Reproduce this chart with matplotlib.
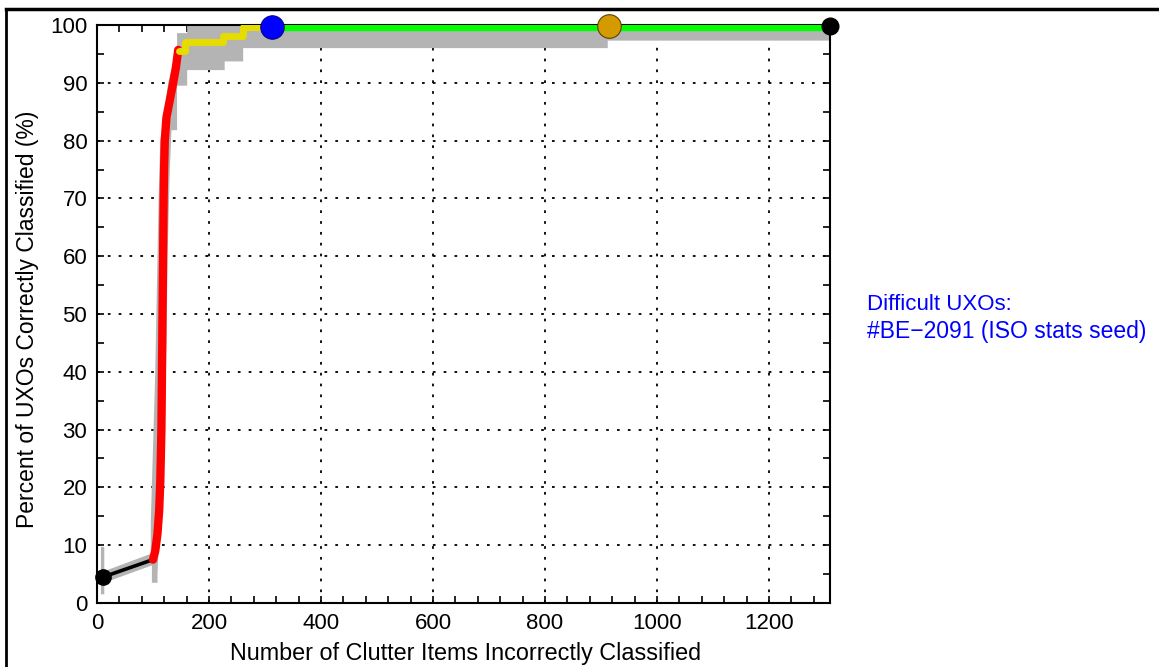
import matplotlib
matplotlib.use("Agg")
import matplotlib.pyplot as plt
from matplotlib.lines import Line2D
from matplotlib.ticker import MultipleLocator

plt.rcParams["font.family"] = ["Liberation Sans", "DejaVu Sans"]

# ROC segments (clutter false alarms vs. % UXO found)
black_x = [11, 100]
black_y = [4.5, 7.5]
red_x = [100, 104, 108, 111, 113, 115, 116, 117, 118, 119, 120, 121, 124, 128, 132, 136, 141, 145]
red_y = [7.5, 9, 12, 16, 21, 30, 40, 50, 60, 70, 76, 80, 84, 86, 88, 90, 92.7, 95.7]
yellow_x = [147, 157, 157, 225, 225, 261, 261, 312]
yellow_y = [95.5, 95.5, 97.1, 97.1, 98.1, 98.1, 99.6, 99.6]
green_x = [312, 1309]
green_y = [99.7, 99.7]

# operating points
start_pt = (11, 4.5)
blue_pt = (312, 99.7)
orange_pt = (914, 99.8)
end_pt = (1309, 99.8)

# confidence band, upper-left edge then lower-right edge
band_hi_x = [7, 7, 13, 13, 96, 96, 104, 110, 113, 122, 127, 135, 143, 143, 161, 161, 1309]
band_hi_y = [1.5, 9.7, 9.7, 5.5, 8.5, 14, 40, 70, 80, 86, 90, 93, 95.5, 98.6, 98.6, 100, 100]
band_lo_x = [1309, 912, 912, 261, 261, 228, 228, 161, 161, 143, 143, 133, 130, 126, 124, 121, 117, 110, 108, 108, 98, 98, 13, 13]
band_lo_y = [97.3, 97.3, 96, 96, 93.7, 93.7, 92.2, 92.2, 89.5, 89.5, 81.8, 81.8, 75, 60, 45, 30, 18, 10, 5, 3.5, 3.5, 6.5, 3.5, 1.5]

fig = plt.figure(figsize=(11.59, 6.67), dpi=100)
ax = fig.add_axes([0.0837, 0.096, 0.6325, 0.8665])

ax.fill(band_hi_x + band_lo_x, band_hi_y + band_lo_y, color="#b4b4b4", lw=0, zorder=1)
ax.plot(black_x, black_y, color="black", lw=2.6, zorder=3)
ax.plot(red_x, red_y, color="#ff0000", lw=6, solid_capstyle="round", zorder=4)
ax.plot(yellow_x, yellow_y, color="#e6dc00", lw=5, solid_capstyle="round", zorder=4)
ax.plot(green_x, green_y, color="#00ff00", lw=6, zorder=4)

ax.plot(*start_pt, "o", color="black", ms=11, zorder=6, clip_on=False)
ax.plot(*blue_pt, "o", color="#0000ff", mec="#000060", mew=0.6, ms=17, zorder=6, clip_on=False)
ax.plot(*orange_pt, "o", color="#d49b00", mec="#5a4000", mew=0.8, ms=17, zorder=6, clip_on=False)
ax.plot(*end_pt, "o", color="black", ms=12, zorder=6, clip_on=False)

ax.set_xlim(0, 1309)
ax.set_ylim(0, 100)
ax.xaxis.set_major_locator(MultipleLocator(200))
ax.xaxis.set_minor_locator(MultipleLocator(40))
ax.yaxis.set_major_locator(MultipleLocator(10))
ax.yaxis.set_minor_locator(MultipleLocator(5))
ax.tick_params(which="both", direction="in", top=True, right=True, width=1.2)
ax.tick_params(which="major", length=5, labelsize=16, pad=7)
ax.tick_params(which="minor", length=5)
ax.grid(True, which="major", color="black", linestyle=(0, (1.5, 4.5)), lw=1.3)
ax.set_axisbelow(True)
for sp in ax.spines.values():
    sp.set_linewidth(1.5)

ax.set_xlabel("Number of Clutter Items Incorrectly Classified", fontsize=16.8)
ax.set_ylabel("Percent of UXOs Correctly Classified (%)", fontsize=16.5)
ax.xaxis.set_label_coords(0.503, -0.067)
ax.yaxis.set_label_coords(-0.079, 0.49)

fig.text(0.748, 0.535, "Difficult UXOs:", color="#0000ff", fontsize=16, va="baseline")
fig.text(0.748, 0.493, "#BE\u22122091 (ISO stats seed)", color="#0000ff", fontsize=16.5, va="baseline")

# page frame: top and left rules
fig.add_artist(Line2D([0.005, 1.0], [0.9865, 0.9865], color="black", lw=2.5))
fig.add_artist(Line2D([0.0055, 0.0055], [0.0, 0.9865], color="black", lw=2))

fig.savefig("out.png", dpi=100)
